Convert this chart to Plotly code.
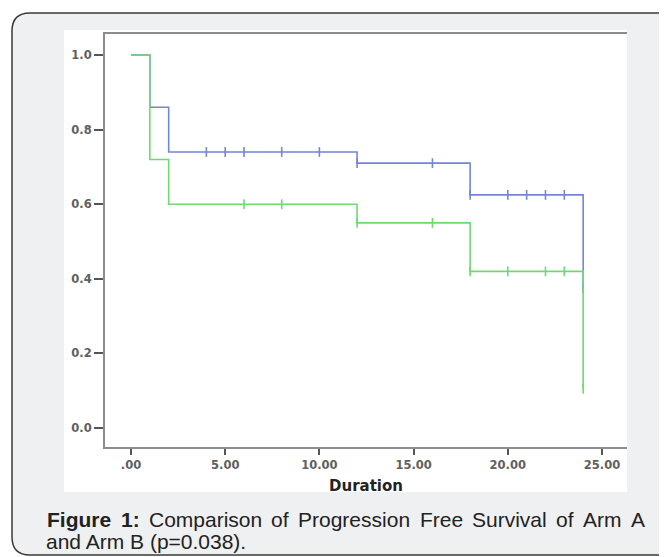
import plotly.graph_objects as go

# page body has an 8px margin: the figure starts at window pixel (8, 8)
OFF = 8
W, H = 667 - OFF, 557 - OFF

# ---- data ----
arm_a_times = [0, 1, 2, 12, 18, 24]
arm_a_surv = [1.0, 0.86, 0.74, 0.71, 0.625, 0.375]
arm_a_censored = [4, 5, 6, 8, 10, 12, 16, 18, 20, 21, 22, 23, 24]

arm_b_times = [0, 1, 2, 12, 18, 24]
arm_b_surv = [1.0, 0.72, 0.60, 0.55, 0.42, 0.105]
arm_b_censored = [6, 8, 12, 16, 18, 20, 22, 23, 24]

x_ticks = [0, 5, 10, 15, 20, 25]
x_tick_labels = [".00", "5.00", "10.00", "15.00", "20.00", "25.00"]
y_ticks = [0.0, 0.2, 0.4, 0.6, 0.8, 1.0]
y_tick_labels = ["0.0", "0.2", "0.4", "0.6", "0.8", "1.0"]

x_title = "Duration"
caption_line1 = ["<b>Figure</b>", "<b>1:</b>", "Comparison", "of", "Progression",
                 "Free", "Survival", "of", "Arm", "A"]
caption_line2 = "and Arm B (p=0.038)."

BLUE = "#7285d8"
GREEN = "#6cdb6f"
AXIS = "#8c8c8c"


def step_value(times, surv, t):
    v = surv[0]
    for tt, s in zip(times, surv):
        if tt <= t:
            v = s
    return v


def px(x):
    return (x - OFF) / W


def py(y):
    return 1 - (y - OFF) / H


fig = go.Figure()

for times, surv, cens, col in [
    (arm_a_times, arm_a_surv, arm_a_censored, BLUE),
    (arm_b_times, arm_b_surv, arm_b_censored, GREEN),
]:
    fig.add_trace(go.Scatter(
        x=times, y=surv, mode="lines", line=dict(color=col, width=1.6, shape="hv"),
        hoverinfo="skip", showlegend=False))
    fig.add_trace(go.Scatter(
        x=cens, y=[step_value(times, surv, t) for t in cens], mode="markers",
        marker=dict(symbol="line-ns", size=7, line=dict(color=col, width=1.6)),
        hoverinfo="skip", showlegend=False))

# plot area in reference pixels
L, R, T, B = 105, 627, 34, 447

# rounded outer frame
x0, y0, x1, y1, r = 12, 13, 700, 555, 18
path = (f"M {px(x0)} {py(y0 + r)} Q {px(x0)} {py(y0)} {px(x0 + r)} {py(y0)} "
        f"L {px(x1)} {py(y0)} L {px(x1)} {py(y1)} L {px(x0 + r)} {py(y1)} "
        f"Q {px(x0)} {py(y1)} {px(x0)} {py(y1 - r)} Z")

shapes = [
    dict(type="path", xref="paper", yref="paper", path=path,
         fillcolor="#eff0f1", line=dict(color="#3a3a3a", width=1.5), layer="below"),
    dict(type="rect", xref="paper", yref="paper", x0=px(64), x1=px(627), y0=py(492), y1=py(30),
         fillcolor="white", line=dict(width=0), layer="below"),
]

annotations = [
    dict(text=f"<b>{x_title}</b>", xref="paper", yref="paper", x=px(366), y=py(486),
         xanchor="center", yanchor="middle", showarrow=False,
         font=dict(family="DejaVu Sans", size=15, color="#222222")),
]

# justified first caption line (Arial / Liberation Sans advance widths in em)
CAP_SIZE = 21
word_em = [3.056, 0.889, 5.39, 0.834, 5.335, 2.056, 3.556, 0.834, 1.833, 0.667]
line_left, line_right = 45, 643
natural = sum(word_em) * CAP_SIZE
gap = (line_right - line_left - natural) / (len(word_em) - 1)
xpos = line_left
for word, em in zip(caption_line1, word_em):
    annotations.append(dict(text=word, xref="paper", yref="paper", x=px(xpos), y=py(519),
                            xanchor="left", yanchor="middle", showarrow=False,
                            font=dict(family="Liberation Sans", size=CAP_SIZE, color="#222222")))
    xpos += em * CAP_SIZE + gap
annotations.append(dict(text=caption_line2, xref="paper", yref="paper", x=px(44), y=py(541),
                        xanchor="left", yanchor="middle", showarrow=False,
                        font=dict(family="Liberation Sans", size=CAP_SIZE, color="#222222")))

# axis ranges from pixel positions: 0 -> 131px, 18.84 px/unit; y: 0 -> 428px, 373 px/unit
x_per_px = 1 / 18.84
y_per_px = 1 / 373.0
xr = [(L - 131) * x_per_px, (R - 131) * x_per_px]
yr = [(428 - B) * y_per_px, (428 - T) * y_per_px]

tick_font = dict(family="DejaVu Sans", size=11.5, color="#606060", weight="bold")

fig.update_layout(
    width=W, height=H,
    margin=dict(l=0, r=0, t=0, b=0),
    paper_bgcolor="white", plot_bgcolor="white",
    shapes=shapes, annotations=annotations,
    xaxis=dict(domain=[px(L), px(R)], range=xr, tickvals=x_ticks, ticktext=x_tick_labels,
               showgrid=False, zeroline=False, showline=True, mirror=True,
               linecolor=AXIS, linewidth=2, ticks="outside", ticklen=6, tickwidth=1.5,
               tickcolor="#555555", tickfont=tick_font),
    yaxis=dict(domain=[py(B), py(T)], range=yr, tickvals=y_ticks, ticktext=y_tick_labels,
               showgrid=False, zeroline=False, showline=True, mirror=False,
               linecolor=AXIS, linewidth=2, ticks="outside", ticklen=9, tickwidth=1.5,
               tickcolor="#555555", tickfont=tick_font),
)

fig.write_html("out.html")
